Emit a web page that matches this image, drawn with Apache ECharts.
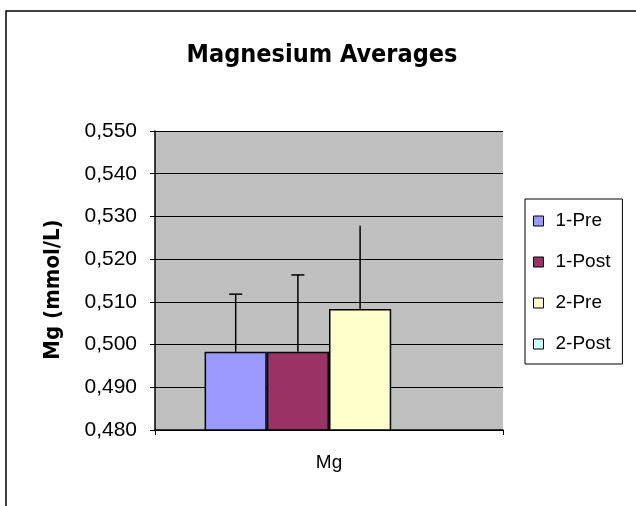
<!DOCTYPE html>
<html>
<head>
<meta charset="utf-8">
<script src="https://cdn.jsdelivr.net/npm/echarts@6/dist/echarts.min.js"></script>
<style>html,body{margin:0;padding:0;background:#fff}#c{width:636px;height:506px}</style>
</head>
<body>
<div id="c"></div>
<script>
const categories = ['Mg'];
const seriesNames = ['1-Pre', '1-Post', '2-Pre', '2-Post'];
const seriesColors = ['#9999FF', '#993366', '#FFFFCC', '#CCFFFF'];
const means = [0.4983, 0.4983, 0.5083, null];
const errors = [0.0135, 0.0180, 0.0195, null];
const errCaps = [true, true, false, false];
const yMin = 0.48, yMax = 0.55, yStep = 0.01;
const catGap = 0.285;

const chart = echarts.init(document.getElementById('c'), null, {renderer: 'canvas'});

const barSeries = seriesNames.map((name, i) => ({
  name: name,
  type: 'bar',
  data: [means[i]],
  barGap: '0%',
  barCategoryGap: (catGap * 100) + '%',
  itemStyle: {color: seriesColors[i], borderColor: '#000', borderWidth: 1.5},
  emphasis: {disabled: true}
}));

const errData = means.map((m, i) => [0, m, errors[i], i, errCaps[i] ? 1 : 0]).filter(d => d[1] != null && d[2] != null);

const errSeries = {
  type: 'custom',
  silent: true,
  z: 10,
  data: errData,
  renderItem: function (params, api) {
    const m = api.value(1), e = api.value(2), k = api.value(3), cap = api.value(4);
    const catW = api.size([1, 0])[0];
    const groupW = catW * (1 - catGap);
    const barW = groupW / seriesNames.length;
    const base = api.coord([api.value(0), m]);
    const top = api.coord([api.value(0), m + e]);
    const x = base[0] - groupW / 2 + barW * (k + 0.5);
    const children = [{
      type: 'line',
      shape: {x1: x, y1: base[1], x2: x, y2: top[1]},
      style: {stroke: '#000', lineWidth: 1.5}
    }];
    if (cap) {
      children.push({
        type: 'line',
        shape: {x1: x - 6.5, y1: top[1], x2: x + 6.5, y2: top[1]},
        style: {stroke: '#000', lineWidth: 1.5}
      });
    }
    return {type: 'group', children: children};
  }
};

chart.setOption({
  animation: false,
  backgroundColor: '#fff',
  title: {
    text: 'Magnesium Averages',
    left: 317,
    textAlign: 'center',
    top: 38,
    textStyle: {fontFamily: 'DejaVu Sans Condensed, Liberation Sans', fontWeight: 'bold', fontSize: 25, color: '#000'}
  },
  graphic: [{
    type: 'rect',
    shape: {x: 6, y: 11, width: 700, height: 700},
    style: {fill: 'none', stroke: '#000', lineWidth: 1.5},
    silent: true
  }],
  legend: {
    orient: 'vertical',
    left: 525,
    top: 199,
    padding: [12, 12, 10, 8],
    itemGap: 21,
    itemWidth: 10,
    itemHeight: 10,
    borderColor: '#000',
    borderWidth: 1,
    backgroundColor: '#fff',
    borderRadius: 0,
    data: seriesNames.map(n => ({name: n, icon: 'rect', itemStyle: {borderColor: '#000', borderWidth: 1}})),
    textStyle: {fontFamily: 'Liberation Sans', fontSize: 19, color: '#000', lineHeight: 20, padding: [0, 0, 0, 7]}
  },
  grid: {
    left: 155, top: 131, right: 133, bottom: 76,
    show: true, backgroundColor: '#C0C0C0', borderWidth: 0
  },
  xAxis: {
    type: 'category',
    data: categories,
    axisLine: {lineStyle: {color: '#000', width: 1.5}},
    axisTick: {show: true, length: 5, lineStyle: {color: '#000'}},
    axisLabel: {fontFamily: 'Liberation Sans', fontSize: 19, color: '#000', margin: 23}
  },
  yAxis: {
    type: 'value',
    min: yMin, max: yMax, interval: yStep,
    name: 'Mg (mmol/L)',
    nameLocation: 'middle',
    nameGap: 91,
    nameRotate: 90,
    nameTextStyle: {fontFamily: 'DejaVu Sans Condensed, Liberation Sans', fontWeight: 'bold', fontSize: 22, color: '#000', padding: [0, 18, 0, 0]},
    axisLine: {show: true, lineStyle: {color: '#000', width: 1.5}},
    axisTick: {show: true, length: 5, lineStyle: {color: '#000'}},
    splitLine: {show: true, lineStyle: {color: '#000', width: 1.2}},
    axisLabel: {
      fontFamily: 'Liberation Sans', fontSize: 21, color: '#000', margin: 18,
      formatter: v => v.toFixed(3).replace('.', ',')
    }
  },
  series: [...barSeries, errSeries]
});
</script>
</body>
</html>
